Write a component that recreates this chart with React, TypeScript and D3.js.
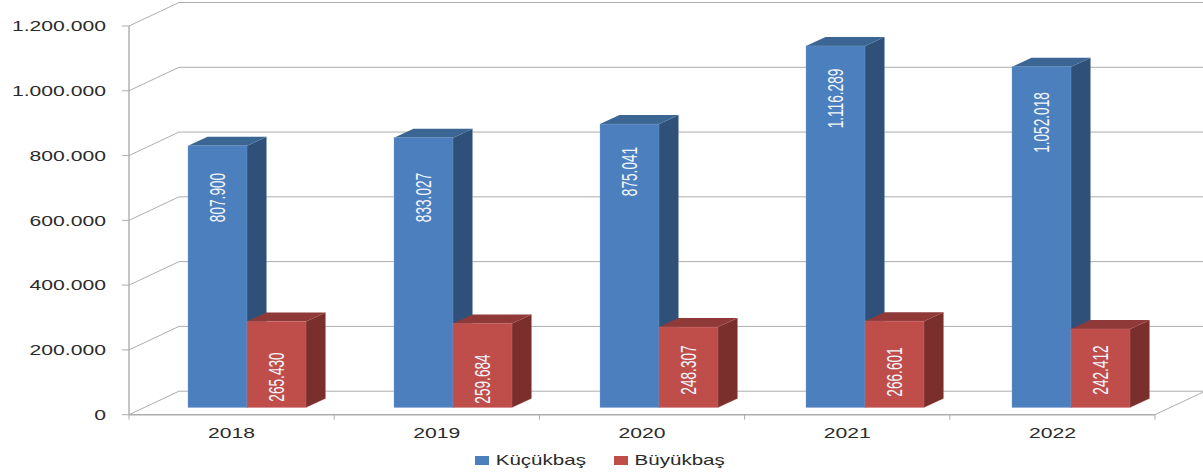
import React from "react";
import * as d3 from "d3";

const categories = ["2018", "2019", "2020", "2021", "2022"];
const kucukbas = [807900, 833027, 875041, 1116289, 1052018];
const buyukbas = [265430, 259684, 248307, 266601, 242412];
const yTicks = [0, 200000, 400000, 600000, 800000, 1000000, 1200000];
const seriesNames = ["Küçükbaş", "Büyükbaş"];

// label placement: distance of label centre above the bar base
const kucukbasLabelRise = [210, 210, 236, 309, 285];
const buyukbasLabelRise = [30.5, 28.5, 37.5, 35.5, 37.5];

const W = 1203, H = 472;
const FRONT_ZERO = 414.7, FRONT_TOP = 26;
const WALL_DX = 50, WALL_DY = 23.5;
const BAR_BASE = 407.5, BAR_W = 59, BAR_DX = 19.5, BAR_DY = 9;
const AXIS_X = 129, AXIS_END = 1155;

const trFmt = (v: number) => d3.format(",")(v).replace(/,/g, ".");

const yAxis = d3.scaleLinear().domain([0, 1200000]).range([FRONT_ZERO, FRONT_TOP]);
const yBar = d3.scaleLinear().domain([0, 1200000]).range([BAR_BASE, BAR_BASE - (FRONT_ZERO - FRONT_TOP)]);
const xBand = d3.scaleBand<string>().domain(categories).range([AXIS_X, AXIS_END]);
const xBar = d3.scalePoint<string>().domain(categories).range([188, 1012]);

const poly = d3.line<[number, number]>();

const C = {
  blue: { front: "#4B7FBD", top: "#3B6592", side: "#2F5179", edge: "#7FA3CF" },
  red: { front: "#BF4D4A", top: "#8F3A38", side: "#7B2F2D", edge: "#CF7573" },
};
const GRID = "#ADADAD";
const TEXT = "#2A2A2A";
const FONT = "'Liberation Sans', Arial, sans-serif";

function Bar({ x, value, col }: { x: number; value: number; col: typeof C.blue }) {
  const t = yBar(value);
  const r = x + BAR_W;
  return (
    <g>
      <path
        d={poly([[r, t], [r + BAR_DX, t - BAR_DY], [r + BAR_DX, BAR_BASE - BAR_DY], [r, BAR_BASE]])!}
        fill={col.side}
        stroke={col.edge}
        strokeOpacity={0.35}
        strokeWidth={0.7}
      />
      <path
        d={poly([[x, t], [x + BAR_DX, t - BAR_DY], [r + BAR_DX, t - BAR_DY], [r, t]])!}
        fill={col.top}
      />
      <rect x={x} y={t} width={BAR_W} height={BAR_BASE - t} fill={col.front} stroke={col.edge} strokeOpacity={0.5} strokeWidth={0.7} />
    </g>
  );
}

function StretchText({ x, y, sx, size, anchor, children }: any) {
  return (
    <text
      transform={`translate(${x},${y}) scale(${sx},1)`}
      fontSize={size}
      fontFamily={FONT}
      textAnchor={anchor}
      dy="0.35em"
      fill={TEXT}
    >
      {children}
    </text>
  );
}

function BarLabel({ x, y, children }: any) {
  return (
    <text
      transform={`translate(${x},${y}) rotate(-90) scale(0.62,1)`}
      fontSize={22}
      fontFamily={FONT}
      textAnchor="middle"
      dy="0.35em"
      fill="#F2F5FA"
    >
      {children}
    </text>
  );
}

export default function App() {
  return (
    <svg width={W} height={H} style={{ position: "absolute", left: 0, top: 0, display: "block", background: "#fff" }}>
      {yTicks.map((t) => {
        const y = yAxis(t);
        return (
          <g key={t}>
            <path
              d={poly([[AXIS_X, y], [AXIS_X + WALL_DX, y - WALL_DY], [W + 2, y - WALL_DY]])!}
              fill="none"
              stroke={GRID}
              strokeWidth={1}
            />
            <line x1={AXIS_X - 7} x2={AXIS_X} y1={y} y2={y} stroke={GRID} strokeWidth={1} />
            <StretchText x={106} y={y} sx={1.41} size={15} anchor="end">
              {trFmt(t)}
            </StretchText>
          </g>
        );
      })}
      <line x1={AXIS_X} x2={AXIS_X} y1={FRONT_TOP} y2={FRONT_ZERO} stroke={GRID} strokeWidth={1.4} />
      <line x1={AXIS_X} x2={AXIS_END} y1={FRONT_ZERO} y2={FRONT_ZERO} stroke={GRID} strokeWidth={1.4} />
      <line
        x1={AXIS_END}
        x2={AXIS_END + WALL_DX}
        y1={FRONT_ZERO}
        y2={FRONT_ZERO - WALL_DY}
        stroke={GRID}
        strokeWidth={1}
      />
      {categories.map((c, i) => (
        <line
          key={c}
          x1={AXIS_X + i * xBand.step()}
          x2={AXIS_X + i * xBand.step()}
          y1={FRONT_ZERO}
          y2={FRONT_ZERO + 5}
          stroke={GRID}
          strokeWidth={1}
        />
      ))}
      <line x1={AXIS_END} x2={AXIS_END} y1={FRONT_ZERO} y2={FRONT_ZERO + 5} stroke={GRID} strokeWidth={1} />

      {categories.map((c, i) => {
        const x = xBar(c)!;
        return (
          <g key={c}>
            <Bar x={x} value={kucukbas[i]} col={C.blue} />
            <Bar x={x + BAR_W} value={buyukbas[i]} col={C.red} />
            <BarLabel x={x + BAR_W / 2} y={BAR_BASE - kucukbasLabelRise[i]}>
              {trFmt(kucukbas[i])}
            </BarLabel>
            <BarLabel x={x + BAR_W * 1.5} y={BAR_BASE - buyukbasLabelRise[i]}>
              {trFmt(buyukbas[i])}
            </BarLabel>
            <StretchText x={xBand(c)! + xBand.bandwidth() / 2} y={433} sx={1.41} size={15} anchor="middle">
              {c}
            </StretchText>
          </g>
        );
      })}

      <rect x={475} y={456} width={14} height={9} fill={C.blue.front} />
      <StretchText x={495.7} y={459.5} sx={1.37} size={15} anchor="start">
        {seriesNames[0]}
      </StretchText>
      <rect x={614} y={456} width={14} height={9} fill={C.red.front} />
      <StretchText x={634.6} y={459.5} sx={1.37} size={15} anchor="start">
        {seriesNames[1]}
      </StretchText>
    </svg>
  );
}
